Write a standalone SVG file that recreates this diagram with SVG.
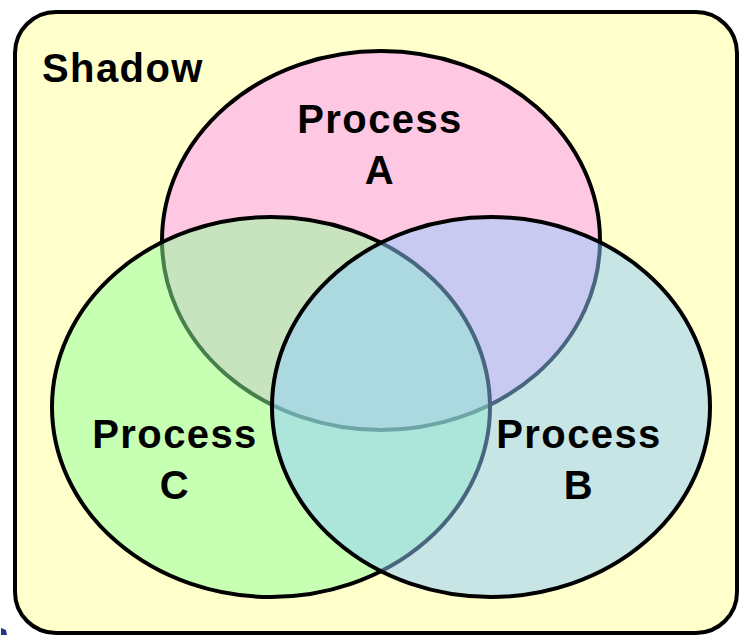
<svg xmlns="http://www.w3.org/2000/svg" width="740" height="636" viewBox="0 0 740 636">
  <style>
    .frame { fill: #ffffcc; stroke: #000; stroke-width: 4; }
    .set { stroke: #000; stroke-width: 4; }
    .label { font-family: "Liberation Sans", Arial, Helvetica, sans-serif; font-weight: bold; font-size: 40px; letter-spacing: 1.4px; fill: #000; }
    .mid { text-anchor: middle; }
  </style>
  <rect width="740" height="636" fill="#ffffff"/>
  <g id="shadow-frame">
    <rect class="frame" x="15" y="12" width="722" height="621" rx="41" ry="41"/>
    <text class="label" x="42" y="82">Shadow</text>
  </g>
  <g id="process-a">
    <ellipse class="set" cx="381" cy="240.5" rx="219" ry="189.5" fill="#ffc8e2"/>
    <text class="label mid" x="380" y="133">Process</text>
    <text class="label mid" x="380" y="184">A</text>
  </g>
  <g id="process-c">
    <ellipse class="set" cx="271" cy="407" rx="219" ry="190" fill="#90ff9a" fill-opacity="0.5"/>
    <text class="label mid" x="175" y="448">Process</text>
    <text class="label mid" x="175" y="499">C</text>
  </g>
  <g id="process-b">
    <ellipse class="set" cx="491" cy="407" rx="219" ry="190" fill="#91cbff" fill-opacity="0.5"/>
    <text class="label mid" x="579" y="448">Process</text>
    <text class="label mid" x="579" y="499">B</text>
  </g>
  <g id="connectors"/>
  <!-- small corner marker -->
  <path d="M1 628 L6 630 L7 635 L1 635 Z" fill="#2a3580"/>
</svg>
